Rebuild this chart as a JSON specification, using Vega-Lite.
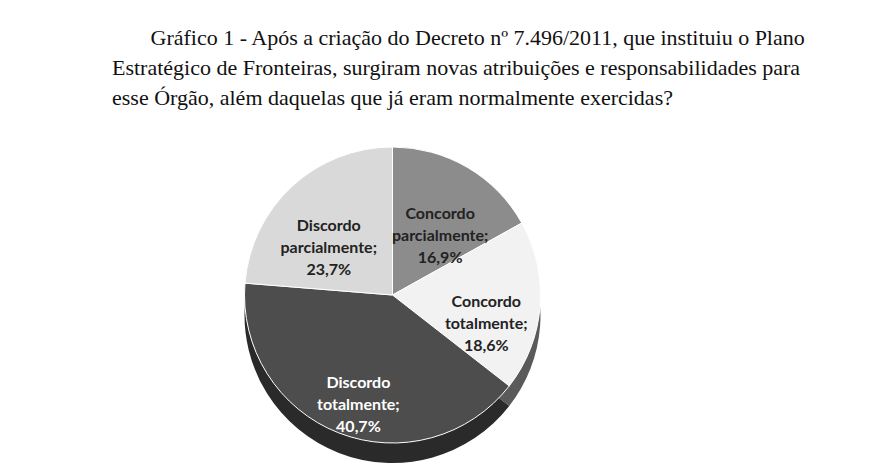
{
  "$schema": "https://vega.github.io/schema/vega-lite/v6.json",
  "autosize": "none",
  "width": 785,
  "height": 320,
  "padding": {"left": 0, "top": 135, "right": 100, "bottom": 10},
  "background": "white",
  "title": {
    "text": [
      "\u200b\u00a0\u00a0\u00a0\u00a0\u00a0\u00a0\u00a0Gráfico 1 - Após a criação do Decreto nº 7.496/2011, que instituiu o Plano",
      "Estratégico de Fronteiras, surgiram novas atribuições e responsabilidades para",
      "esse Órgão, além daquelas que já eram normalmente exercidas?"
    ],
    "anchor": "start",
    "frame": "group",
    "dx": 112,
    "dy": -2,
    "offset": 23,
    "font": "Liberation Serif",
    "fontSize": 22,
    "fontWeight": "normal",
    "lineHeight": 30,
    "color": "#111"
  },
  "data": {
    "values": [
      {"ordem": 1, "cat": "Concordo parcialmente", "pct": 16.9, "rotulo": "Concordo\nparcialmente;\n16,9%"},
      {"ordem": 2, "cat": "Concordo totalmente", "pct": 18.6, "rotulo": "Concordo\ntotalmente;\n18,6%"},
      {"ordem": 3, "cat": "Discordo totalmente", "pct": 40.7, "rotulo": "Discordo\ntotalmente;\n40,7%"},
      {"ordem": 4, "cat": "Discordo parcialmente", "pct": 23.7, "rotulo": "Discordo\nparcialmente;\n23,7%"}
    ]
  },
  "encoding": {
    "theta": {"field": "pct", "type": "quantitative", "stack": true},
    "order": {"field": "ordem", "type": "ordinal"}
  },
  "layer": [
    {
      "mark": {"type": "arc", "outerRadius": 148, "yOffset": 20},
      "encoding": {
        "color": {
          "field": "cat",
          "type": "nominal",
          "scale": {
            "domain": ["Concordo parcialmente", "Concordo totalmente", "Discordo totalmente", "Discordo parcialmente"],
            "range": ["#555555", "#5a5a5a", "#2a2a2a", "#8a8a8a"]
          },
          "legend": null
        }
      }
    },
    {
      "mark": {"type": "arc", "outerRadius": 148, "stroke": "white", "strokeWidth": 1},
      "encoding": {
        "color": {
          "field": "cat",
          "type": "nominal",
          "scale": {
            "domain": ["Concordo parcialmente", "Concordo totalmente", "Discordo totalmente", "Discordo parcialmente"],
            "range": ["#8c8c8c", "#f2f2f2", "#4d4d4d", "#d9d9d9"]
          },
          "legend": null
        }
      }
    },
    {
      "mark": {"type": "text", "radius": 94, "font": "Lato", "fontWeight": "bold", "fontSize": 16, "lineBreak": "\n", "lineHeight": 22, "align": "center", "baseline": "middle"},
      "encoding": {
        "text": {"field": "rotulo", "type": "nominal"},
        "color": {
          "condition": {"test": "datum.cat === 'Discordo totalmente'", "value": "#ffffff"},
          "value": "#222222"
        }
      }
    }
  ],
  "resolve": {"scale": {"color": "independent"}},
  "config": {"view": {"stroke": null}}
}
